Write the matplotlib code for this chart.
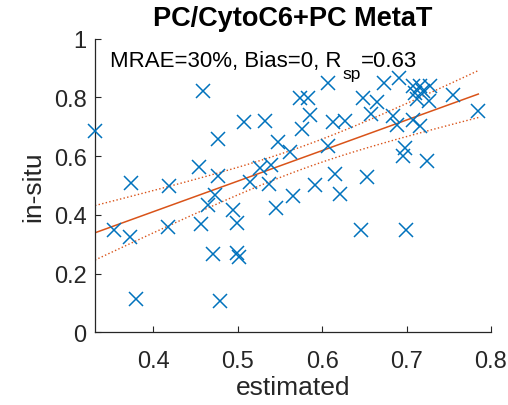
import numpy as np
import matplotlib
matplotlib.use('Agg')
from matplotlib import pyplot as plt

plt.rcParams['font.family'] = ['Liberation Sans', 'DejaVu Sans']

# values
estimated = [0.331, 0.353, 0.373, 0.374, 0.380, 0.417, 0.419, 0.454, 0.457, 0.459,
             0.465, 0.471, 0.473, 0.477, 0.477, 0.479, 0.494, 0.499, 0.499, 0.502,
             0.507, 0.515, 0.527, 0.532, 0.537, 0.539, 0.545, 0.548, 0.562, 0.565,
             0.574, 0.583, 0.576, 0.586, 0.592, 0.607, 0.607, 0.613, 0.615, 0.621,
             0.627, 0.646, 0.648, 0.653, 0.658, 0.665, 0.673, 0.684, 0.689, 0.691,
             0.696, 0.698, 0.699, 0.708, 0.708, 0.710, 0.712, 0.716, 0.716, 0.720,
             0.724, 0.727, 0.728, 0.755, 0.785]
insitu = [0.685, 0.349, 0.325, 0.508, 0.115, 0.359, 0.498, 0.562, 0.369, 0.822,
          0.432, 0.268, 0.469, 0.659, 0.532, 0.105, 0.418, 0.373, 0.271, 0.258,
          0.716, 0.511, 0.560, 0.718, 0.506, 0.571, 0.424, 0.647, 0.613, 0.464,
          0.797, 0.797, 0.693, 0.740, 0.500, 0.850, 0.636, 0.716, 0.540, 0.472,
          0.720, 0.347, 0.797, 0.529, 0.744, 0.784, 0.849, 0.735, 0.707, 0.865,
          0.599, 0.628, 0.347, 0.839, 0.724, 0.814, 0.794, 0.839, 0.704, 0.820,
          0.582, 0.786, 0.837, 0.808, 0.755]
title = 'PC/CytoC6+PC MetaT'
stats = ['MRAE=30%, Bias=0, R', 'sp', '=0.63']
xticks = [0.4, 0.5, 0.6, 0.7, 0.8]
yticks = [0, 0.2, 0.4, 0.6, 0.8, 1]

blue = '#0072BD'
orange = '#D95319'
dark = '#262626'

x = np.array(estimated)
y = np.array(insitu)

# linear fit and 95% confidence band of the fitted line
p = np.polyfit(x, y, 1)
n = len(x)
xf = np.linspace(x.min(), x.max(), 100)
yf = np.polyval(p, xf)
s = np.sqrt(np.sum((y - np.polyval(p, x))**2) / (n - 2))
sxx = np.sum((x - x.mean())**2)
half = 1.998 * s * np.sqrt(1.0/n + (xf - x.mean())**2 / sxx)

fig = plt.figure(figsize=(5.08, 4.06), dpi=100)
ax = fig.add_axes([0.187, 0.179, 0.7795, 0.7235])

ax.plot(x, y, 'x', color=blue, markersize=9.5, markeredgewidth=1.1, clip_on=False, zorder=3)
ax.plot(xf, yf, '-', color=orange, lw=1.1, zorder=2)
ax.plot(xf, yf + half, ':', color=orange, lw=1.0, zorder=2)
ax.plot(xf, yf - half, ':', color=orange, lw=1.0, zorder=2)

ax.set_xlim(0.331, 0.8)
ax.set_ylim(0, 1)
ax.set_xticks(xticks)
ax.set_yticks(yticks)
ax.set_xticklabels(['{:g}'.format(v) for v in xticks])
ax.set_yticklabels(['{:g}'.format(v) for v in yticks])
ax.tick_params(direction='in', length=4, width=0.8, colors=dark, labelsize=17)
ax.tick_params(axis='x', pad=13)
ax.tick_params(axis='y', pad=6)
for side in ['top', 'right']:
    ax.spines[side].set_visible(False)
for side in ['left', 'bottom']:
    ax.spines[side].set_color(dark)
    ax.spines[side].set_linewidth(0.9)

ax.set_xlabel('estimated', fontsize=19, color=dark, labelpad=2)
ax.set_ylabel('in-situ', fontsize=19, color=dark, labelpad=6)
ax.set_title(title, fontsize=19.5, fontweight='bold', pad=10)

# stats line with a dropped subscript
t1 = ax.text(0.349, 0.907, stats[0], fontsize=16, va='baseline', ha='left')
t2 = ax.annotate(stats[1], xy=(1, 0), xycoords=t1, xytext=(0.5, -5),
                 textcoords='offset points', fontsize=12.5, va='baseline', ha='left')
ax.annotate(stats[2], xy=(1, 0), xycoords=(t2, t1), fontsize=16, va='bottom', ha='left')

fig.savefig('out.png', dpi=100)
